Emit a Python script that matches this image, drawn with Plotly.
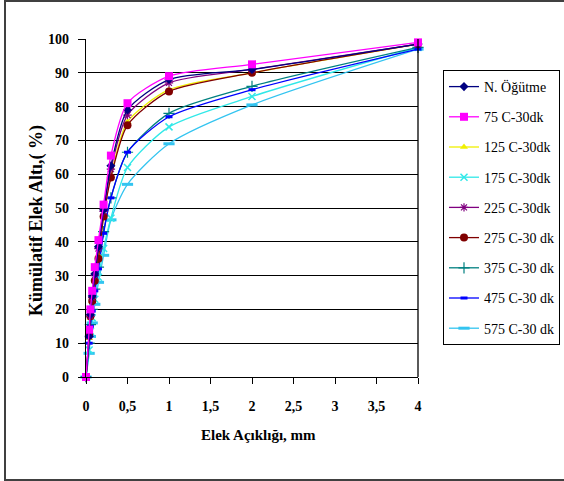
import plotly.graph_objects as go

# Sieve openings (mm)
sieve_mm = [0, 0.038, 0.053, 0.075, 0.106, 0.15, 0.212, 0.3, 0.5, 1, 2, 4]

# Cumulative passing (%) for each sample
n_ogutme = [0, 12, 18.5, 24, 30.5, 38.5, 49.5, 62.5, 79, 88, 91, 98.5]
c75 = [0, 14, 20, 25.5, 32.5, 40.5, 51, 65.5, 81, 89, 92.5, 99]
c125 = [0, 11.5, 17.5, 22.5, 29, 36, 47.5, 59.5, 75.5, 85, 90, 98.5]
c175 = [0, 8, 13.5, 17.5, 23, 29.5, 38, 47, 62, 74, 83, 97.5]
c225 = [0, 12, 18, 23.5, 30, 38, 49, 61.5, 77.5, 87, 91, 98.5]
c275 = [0, 12.5, 18, 22.5, 28.5, 35, 47.5, 59, 74.5, 84.5, 90, 98.5]
c375 = [0, 10, 15.5, 20, 26, 32.5, 43, 53, 66.5, 78, 86, 97.5]
c475 = [0, 10, 15, 19.5, 25.5, 32, 42.5, 53, 66.5, 77, 85, 97]
c575 = [0, 7, 12, 16, 21.5, 28, 36, 46.5, 57, 69, 80.5, 97]

names = ["N. Öğütme", "75 C-30dk", "125 C-30dk", "175 C-30dk", "225 C-30dk",
         "275 C-30 dk", "375 C-30 dk", "475 C-30 dk", "575 C-30 dk"]
series = [n_ogutme, c75, c125, c175, c225, c275, c375, c475, c575]

x_tickvals = [0, 0.5, 1, 1.5, 2, 2.5, 3, 3.5, 4]
x_ticktext = ["0", "0,5", "1", "1,5", "2", "2,5", "3", "3,5", "4"]
y_tickvals = [0, 10, 20, 30, 40, 50, 60, 70, 80, 90, 100]

styles = [
    dict(color="#000080", symbol="diamond", size=7, mlw=0),
    dict(color="#FF00FF", symbol="square", size=8, mlw=0),
    dict(color="#F0F000", symbol="triangle-up", size=7, mlw=0),
    dict(color="#30E8E8", symbol="x-thin", size=7, mlw=1.5),
    dict(color="#800080", symbol="asterisk", size=7, mlw=1.2),
    dict(color="#800000", symbol="circle", size=8, mlw=0),
    dict(color="#008080", symbol="cross-thin", size=8, mlw=1.2),
    dict(color="#0000FF", symbol="line-ew", size=5, mlw=3),
    dict(color="#33C4F0", symbol="line-ew", size=8, mlw=3),
]

draw_order = [8, 3, 6, 7, 2, 5, 4, 0, 1]

fig = go.Figure()
for i in draw_order:
    s = styles[i]
    fig.add_trace(go.Scatter(
        x=sieve_mm, y=series[i], name=names[i], mode="lines+markers",
        line=dict(color=s["color"], width=1.3, shape="spline", smoothing=0.7),
        marker=dict(symbol=s["symbol"], size=s["size"], color=s["color"],
                    line=dict(color=s["color"], width=s["mlw"])),
        legendrank=i + 1, legendgroup=str(i), cliponaxis=False,
    ))

W, H = 564, 481
L, R, T, B = 86, 418, 39, 377
pw, ph = R - L, B - T

def px(xp):
    return (xp - L) / pw

def py(yp):
    return (B - yp) / ph

font = "Liberation Serif"

fig.update_layout(
    width=W, height=H,
    margin=dict(l=L, r=W - R, t=T, b=H - B, pad=0, autoexpand=False),
    paper_bgcolor="white", plot_bgcolor="white",
    font=dict(family=font, color="black"),
    legend=dict(x=px(443), y=py(70), xanchor="left", yanchor="top",
                bordercolor="black", borderwidth=1, bgcolor="white",
                font=dict(family=font, size=14, color="black"),
                tracegroupgap=9, itemwidth=30),
    xaxis=dict(range=[0, 4], tickvals=x_tickvals, ticktext=x_ticktext,
               showgrid=False, showline=True, linecolor="black", linewidth=1.3,
               mirror=False, ticks="outside", ticklen=6, tickcolor="black",
               tickfont=dict(family=font, size=14, color="black", weight="bold"),
               ticklabelstandoff=10, zeroline=False),
    yaxis=dict(range=[0, 100], tickvals=y_tickvals,
               showgrid=True, gridcolor="black", gridwidth=1.3,
               showline=True, linecolor="black", linewidth=1.3,
               ticks="outside", ticklen=7, tickcolor="black",
               tickfont=dict(family=font, size=14, color="black", weight="bold"),
               ticklabelstandoff=6, zeroline=False),
    shapes=[
        dict(type="line", xref="paper", yref="paper", x0=1, x1=1, y0=0, y1=1,
             line=dict(color="black", width=1.3)),
        dict(type="rect", xref="paper", yref="paper",
             x0=px(5), x1=px(570), y0=py(480), y1=py(1),
             line=dict(color="#404040", width=2)),
    ],
    annotations=[
        dict(text="<b>Elek Açıklığı, mm</b>", xref="paper", yref="paper",
             x=px(258), y=py(435), xanchor="center", yanchor="middle",
             showarrow=False, font=dict(family=font, size=15, color="black")),
        dict(text="<b>Kümülatif Elek Altı,( %)</b>", xref="paper", yref="paper",
             x=px(36), y=py(220), xanchor="center", yanchor="middle",
             textangle=-90, showarrow=False,
             font=dict(family=font, size=18, color="black")),
    ],
)

fig.write_html("out.html")
